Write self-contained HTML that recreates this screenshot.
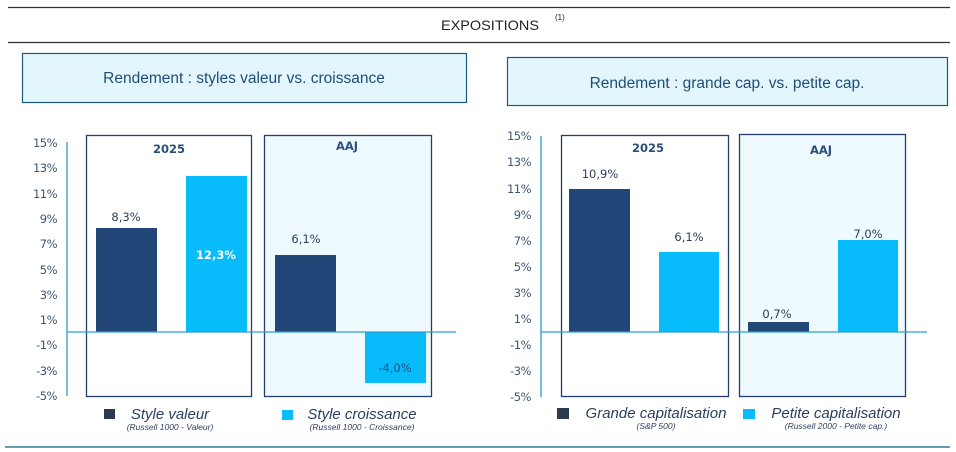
<!DOCTYPE html>
<html><head><meta charset="utf-8"><style>
body{margin:0;background:#fff;}
svg{display:block;font-family:"Liberation Sans",sans-serif;}
</style></head><body>
<svg width="956" height="452" viewBox="0 0 956 452" xmlns="http://www.w3.org/2000/svg">
<line x1="8" y1="7.5" x2="950" y2="7.5" stroke="#333" stroke-width="1.2"/>
<line x1="8" y1="42.5" x2="950" y2="42.5" stroke="#333" stroke-width="1.2"/>
<text x="441" y="30" font-size="14" fill="#222" textLength="98" lengthAdjust="spacingAndGlyphs">EXPOSITIONS</text>
<text x="555" y="20" font-size="8" fill="#222">(1)</text>

<rect x="22.5" y="53.5" width="444" height="49" fill="#e3f6fd" stroke="#1b5a7a" stroke-width="1.2"/>
<text x="244" y="83" font-size="15.5" fill="#1f4d78" text-anchor="middle">Rendement : styles valeur vs. croissance</text>
<rect x="507.5" y="57.5" width="440" height="48" fill="#e3f6fd" stroke="#1b5a7a" stroke-width="1.2"/>
<text x="727" y="88" font-size="15.5" fill="#1f4d78" text-anchor="middle">Rendement : grande cap. vs. petite cap.</text>

<!-- Left chart -->
<g font-family="'DejaVu Sans',sans-serif">
<rect x="264.5" y="135.5" width="167" height="261" fill="#effaff" stroke="#243f6b" stroke-width="1.3"/>
<rect x="86.5" y="135.5" width="165" height="261" fill="none" stroke="#243f6b" stroke-width="1.3"/>
<rect x="96" y="228" width="61" height="104" fill="#214677"/>
<rect x="186" y="176" width="61" height="156" fill="#08bcfb"/>
<rect x="275" y="255" width="61" height="77" fill="#214677"/>
<rect x="365" y="332" width="61" height="51" fill="#08bcfb"/>
<line x1="67" y1="142" x2="67" y2="396" stroke="#2a9fd0" stroke-width="1.3"/>
<line x1="67" y1="332" x2="456" y2="332" stroke="#2a9fd0" stroke-width="1.3"/>
<g font-size="11.5" fill="#3d5775" text-anchor="end" letter-spacing="-0.5">
<text x="57" y="147">15%</text><text x="57" y="172">13%</text><text x="57" y="198">11%</text>
<text x="57" y="223">9%</text><text x="57" y="248">7%</text><text x="57" y="274">5%</text>
<text x="57" y="299">3%</text><text x="57" y="324">1%</text><text x="57" y="349">-1%</text>
<text x="57" y="375">-3%</text><text x="57" y="400">-5%</text>
</g>
<g font-size="11.5" text-anchor="middle" font-weight="bold" fill="#2a4f7c">
<text x="169" y="153">2025</text><text x="347" y="150">AAJ</text>
</g>
<g font-size="11.5" text-anchor="middle" fill="#2a3f5e">
<text x="126" y="221">8,3%</text><text x="306" y="243">6,1%</text>
<text x="216" y="259" fill="#fff" font-weight="bold">12,3%</text>
<text x="395" y="372" fill="#1f4d78">-4,0%</text>
</g>
<rect x="104" y="409" width="11" height="10" fill="#2c3a4f"/>
<rect x="282" y="410" width="11" height="10" fill="#08bcfb"/>
<g font-style="italic" fill="#2a3f5e" text-anchor="middle" font-family="'Liberation Sans',sans-serif">
<text x="170" y="419" font-size="15">Style valeur</text>
<text x="170" y="430" font-size="8.5">(Russell 1000 - Valeur)</text>
<text x="362" y="419" font-size="15">Style croissance</text>
<text x="362" y="430" font-size="8.5">(Russell 1000 - Croissance)</text>
</g>

<!-- Right chart -->
<rect x="739.5" y="134.5" width="166" height="262" fill="#effaff" stroke="#243f6b" stroke-width="1.3"/>
<rect x="561.5" y="135.5" width="167" height="261" fill="none" stroke="#243f6b" stroke-width="1.3"/>
<rect x="569" y="189" width="61" height="143" fill="#214677"/>
<rect x="659" y="252" width="60" height="80" fill="#08bcfb"/>
<rect x="748" y="322" width="61" height="10" fill="#214677"/>
<rect x="838" y="240" width="60" height="92" fill="#08bcfb"/>
<line x1="541" y1="136" x2="541" y2="397" stroke="#2a9fd0" stroke-width="1.3"/>
<line x1="541" y1="332" x2="927" y2="332" stroke="#2a9fd0" stroke-width="1.3"/>
<g font-size="11.5" fill="#3d5775" text-anchor="end" letter-spacing="-0.5">
<text x="531" y="140">15%</text><text x="531" y="166">13%</text><text x="531" y="193">11%</text>
<text x="531" y="219">9%</text><text x="531" y="245">7%</text><text x="531" y="271">5%</text>
<text x="531" y="297">3%</text><text x="531" y="323">1%</text><text x="531" y="349">-1%</text>
<text x="531" y="375">-3%</text><text x="531" y="401">-5%</text>
</g>
<g font-size="11.5" text-anchor="middle" font-weight="bold" fill="#2a4f7c">
<text x="648" y="152">2025</text><text x="821" y="154">AAJ</text>
</g>
<g font-size="11.5" text-anchor="middle" fill="#2a3f5e">
<text x="600" y="178">10,9%</text><text x="689" y="241">6,1%</text>
<text x="777" y="318">0,7%</text><text x="868" y="238">7,0%</text>
</g>
<rect x="557" y="408" width="12" height="11" fill="#2c3a4f"/>
<rect x="743" y="409" width="12" height="10" fill="#08bcfb"/>
<g font-style="italic" fill="#2a3f5e" text-anchor="middle" font-family="'Liberation Sans',sans-serif">
<text x="656" y="418" font-size="15">Grande capitalisation</text>
<text x="656" y="429" font-size="8.5">(S&amp;P 500)</text>
<text x="836" y="418" font-size="15">Petite capitalisation</text>
<text x="836" y="429" font-size="8.5">(Russell 2000 - Petite cap.)</text>
</g>
</g>
<line x1="5" y1="447" x2="950" y2="447" stroke="#2a7f9f" stroke-width="1.5"/>
</svg>
</body></html>
